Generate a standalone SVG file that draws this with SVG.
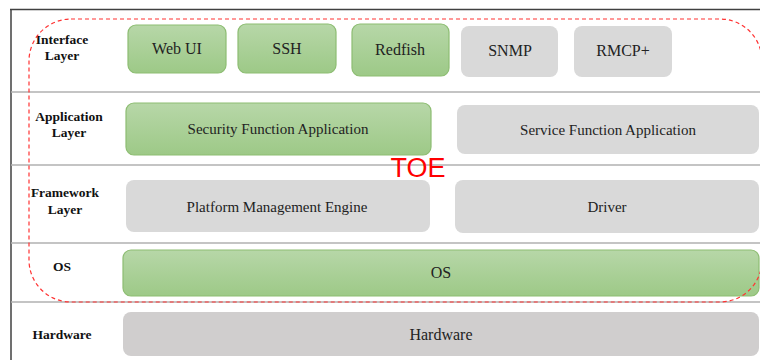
<svg xmlns="http://www.w3.org/2000/svg" width="760" height="360" viewBox="0 0 760 360">
<defs>
<linearGradient id="g" x1="0" y1="0" x2="0" y2="1">
<stop offset="0" stop-color="#b7d7a8"/>
<stop offset="1" stop-color="#9dc987"/>
</linearGradient>
<style>
.grn{fill:url(#g);stroke:#8dbd72;stroke-width:1.2}
.gry{fill:#d9d9d9;stroke:none}
.hw{fill:#d0cece;stroke:none}
.sep{stroke:#b0b0b0;stroke-width:1.5;fill:none}
.lbl{font-family:"Liberation Serif",serif;font-weight:bold;font-size:13.5px;fill:#111;text-anchor:middle}
.t16{font-family:"Liberation Serif",serif;font-size:16px;fill:#222;text-anchor:middle}
.t15{font-family:"Liberation Serif",serif;font-size:15px;fill:#222;text-anchor:middle}
</style>
</defs>
<rect width="760" height="360" fill="#fff"/>
<g id="frame">
<line x1="10" y1="9.5" x2="760" y2="9.5" stroke="#404040" stroke-width="1.5"/>
<line x1="11" y1="9" x2="11" y2="360" stroke="#404040" stroke-width="1.5"/>
<line class="sep" x1="11" y1="92" x2="760" y2="92"/>
<line class="sep" x1="11" y1="165" x2="760" y2="165"/>
<line class="sep" x1="11" y1="243" x2="760" y2="243"/>
<line class="sep" x1="11" y1="302" x2="760" y2="302"/>
</g>
<g id="labels">
<text class="lbl" x="62" y="44">Interface</text>
<text class="lbl" x="62" y="60">Layer</text>
<text class="lbl" x="69" y="121">Application</text>
<text class="lbl" x="69" y="137">Layer</text>
<text class="lbl" x="65" y="197">Framework</text>
<text class="lbl" x="65" y="214">Layer</text>
<text class="lbl" x="62" y="271">OS</text>
<text class="lbl" x="62" y="339">Hardware</text>
</g>
<g id="webui"><rect class="grn" x="128" y="25" width="98" height="48" rx="8"/><text class="t16" x="177" y="54">Web UI</text></g>
<g id="ssh"><rect class="grn" x="238" y="24" width="98" height="49" rx="8"/><text class="t16" x="287" y="54">SSH</text></g>
<g id="redfish"><rect class="grn" x="352" y="24" width="97" height="52" rx="8"/><text class="t16" x="400" y="55">Redfish</text></g>
<g id="snmp"><rect class="gry" x="461" y="26" width="97" height="51" rx="8"/><text class="t16" x="510" y="56">SNMP</text></g>
<g id="rmcp"><rect class="gry" x="574" y="26" width="98" height="51" rx="8"/><text class="t16" x="623" y="56">RMCP+</text></g>
<g id="security"><rect class="grn" x="126" y="103" width="305" height="52" rx="8"/><text class="t15" x="278" y="134">Security Function Application</text></g>
<g id="service"><rect class="gry" x="457" y="105" width="302" height="49" rx="8"/><text class="t15" x="608" y="135">Service Function Application</text></g>
<g id="pme"><rect class="gry" x="126" y="180" width="304" height="52" rx="8"/><text class="t15" x="277" y="212">Platform Management Engine</text></g>
<g id="driver"><rect class="gry" x="455" y="180" width="304" height="53" rx="8"/><text class="t15" x="607" y="212">Driver</text></g>
<g id="os"><rect class="grn" x="123" y="250" width="636" height="46" rx="8"/><text class="t16" x="441" y="278">OS</text></g>
<g id="hardware"><rect class="hw" x="123" y="312" width="636" height="44" rx="8"/><text class="t16" x="441" y="340">Hardware</text></g>
<g id="toe">
<rect x="29" y="19" width="733" height="283" rx="42" fill="none" stroke="#ff3333" stroke-width="1.2" stroke-dasharray="4,3"/>
<text x="418" y="177" font-family="'Liberation Sans',sans-serif" font-size="27" fill="#ff0000" text-anchor="middle">TOE</text>
</g>
</svg>
